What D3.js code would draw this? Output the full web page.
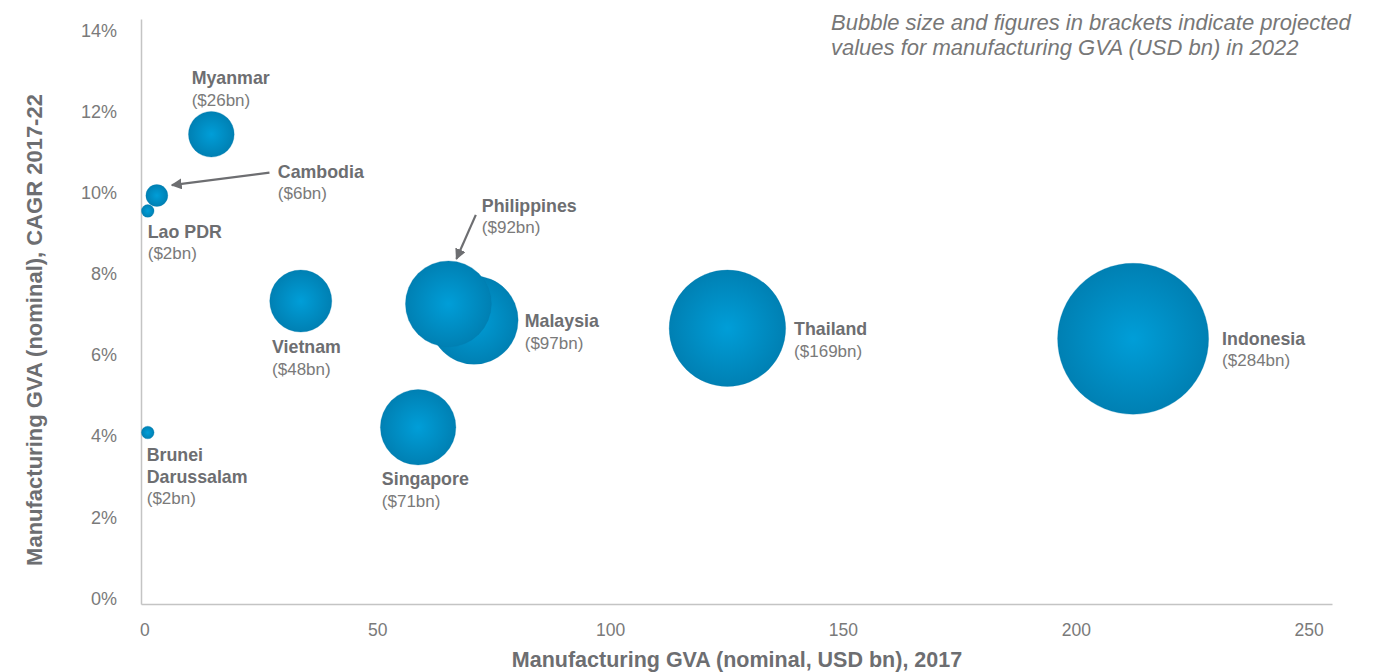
<!DOCTYPE html>
<html>
<head>
<meta charset="utf-8">
<script src="https://cdn.jsdelivr.net/npm/d3@7/dist/d3.min.js"></script>
<style>
  html, body { margin: 0; padding: 0; background: #ffffff; }
  svg { display: block; font-family: "Liberation Sans", Arial, Helvetica, sans-serif; }
</style>
</head>
<body>
<svg id="chart" width="1389" height="672"></svg>
<script>
// ASEAN manufacturing gross value added: 2017 level vs. CAGR 2017-22,
// bubble area = projected 2022 GVA (USD bn)
const countries  = ["Brunei", "Cambodia", "Lao PDR", "Malaysia", "Myanmar", "Philippines", "Singapore", "Thailand", "Vietnam", "Indonesia"];
const gva2017    = [0.75, 2.7, 0.75, 70.8, 14.4, 65.3, 58.8, 125.2, 33.6, 212.3];   // USD bn
const cagr       = [4.09, 9.93, 9.55, 6.86, 11.44, 7.26, 4.22, 6.66, 7.33, 6.40];  // %
const gva2022    = [2, 6, 2, 97, 26, 92, 71, 169, 48, 284];                          // USD bn
const nameLines  = [["Brunei", "Darussalam"], ["Cambodia"], ["Lao PDR"], ["Malaysia"], ["Myanmar"], ["Philippines"], ["Singapore"], ["Thailand"], ["Vietnam"], ["Indonesia"]];
const xTicks     = [0, 50, 100, 150, 200, 250];
const yTicks     = [0, 2, 4, 6, 8, 10, 12, 14];

// Label placement relative to each bubble centre (px); arrows where a label sits apart
const labelLayout = {
  "Brunei":      { dx: -1,    dy: 28.3 },
  "Cambodia":    { dx: 121,   dy: -18,  arrow: [[112.6, -23], [15, -10.4]] },
  "Lao PDR":     { dx: 0,     dy: 26.7 },
  "Malaysia":    { dx: 50.7,  dy: 6.7 },
  "Myanmar":     { dx: -19.7, dy: -50 },
  "Philippines": { dx: 33.4,  dy: -92.3, arrow: [[27.4, -89], [8, -45]] },
  "Singapore":   { dx: -36.3, dy: 57.7 },
  "Thailand":    { dx: 66.7,  dy: 6.7 },
  "Vietnam":     { dx: -28.7, dy: 52.3 },
  "Indonesia":   { dx: 89,    dy: 6 }
};

const svg = d3.select("#chart");
const textGrey = "#6d6e71";
const tickGrey = "#7a7a7a";
const axisGrey = "#c4c4c4";

const x = d3.scaleLinear().domain([-0.7, 255]).range([141, 1332]);
const y = d3.scaleLinear().domain([-0.135, 14.28]).range([604, 19]);
const r = d3.scaleSqrt().domain([0, 284]).range([0, 75.5]);

// bubble shading
const defs = svg.append("defs");
const grad = defs.append("radialGradient").attr("id", "bubbleFill")
  .attr("cx", "50%").attr("cy", "50%").attr("r", "50%");
grad.append("stop").attr("offset", "0%").attr("stop-color", "#009ed8");
grad.append("stop").attr("offset", "100%").attr("stop-color", "#0080b3");

const arrowHead = defs.append("marker").attr("id", "arrowHead")
  .attr("viewBox", "0 0 10 10").attr("refX", 9).attr("refY", 5)
  .attr("markerWidth", 5).attr("markerHeight", 5).attr("orient", "auto")
  .attr("markerUnits", "strokeWidth");
arrowHead.append("path").attr("d", "M0,0 L10,5 L0,10 Z").attr("fill", "#6d6e71");

// axes
const xAxis = d3.axisBottom(x).tickValues(xTicks).tickSize(0).tickPadding(20);
const gx = svg.append("g").attr("transform", `translate(0,${y.range()[0]})`).call(xAxis);
gx.select(".domain").attr("stroke", axisGrey).attr("stroke-width", 1.5);
gx.selectAll("text").attr("fill", tickGrey).attr("font-size", 17.5);

const yAxis = d3.axisLeft(y).tickValues(yTicks).tickSize(0).tickPadding(24)
  .tickFormat(d => d + "%");
const gy = svg.append("g").attr("transform", `translate(${x.range()[0]},0)`).call(yAxis);
gy.select(".domain").attr("stroke", axisGrey).attr("stroke-width", 1.5);
gy.selectAll("text").attr("fill", tickGrey).attr("font-size", 18);

// axis titles
svg.append("text")
  .attr("x", 737).attr("y", 667)
  .attr("text-anchor", "middle").attr("font-size", 21.5).attr("font-weight", "bold")
  .attr("fill", textGrey)
  .text("Manufacturing GVA (nominal, USD bn), 2017");

svg.append("text")
  .attr("transform", "translate(42,330) rotate(-90)")
  .attr("text-anchor", "middle").attr("font-size", 22).attr("font-weight", "bold")
  .attr("fill", textGrey)
  .text("Manufacturing GVA (nominal), CAGR 2017-22");

// note
const note = svg.append("text").attr("x", 831).attr("y", 29.5)
  .attr("font-size", 22).attr("font-style", "italic").attr("fill", "#777777");
note.append("tspan").attr("x", 831).attr("dy", 0).text("Bubble size and figures in brackets indicate projected");
note.append("tspan").attr("x", 831).attr("dy", 25).text("values for manufacturing GVA (USD bn) in 2022");

// bubbles
const data = countries.map((c, i) => ({
  country: c, gx: gva2017[i], growth: cagr[i], size: gva2022[i], lines: nameLines[i]
}));

svg.append("g").selectAll("circle").data(data).join("circle")
  .attr("cx", d => x(d.gx))
  .attr("cy", d => y(d.growth))
  .attr("r", d => r(d.size))
  .attr("fill", "url(#bubbleFill)")
  .attr("stroke", "#0079aa").attr("stroke-opacity", 0.35).attr("stroke-width", 0.8);

// labels and arrows
const labels = svg.append("g");
data.forEach(d => {
  const cx = x(d.gx), cy = y(d.growth);
  const L = labelLayout[d.country];
  if (L.arrow) {
    labels.append("line")
      .attr("x1", cx + L.arrow[0][0]).attr("y1", cy + L.arrow[0][1])
      .attr("x2", cx + L.arrow[1][0]).attr("y2", cy + L.arrow[1][1])
      .attr("stroke", "#6d6e71").attr("stroke-width", 2.2)
      .attr("marker-end", "url(#arrowHead)");
  }
  const t = labels.append("text").attr("x", cx + L.dx).attr("y", cy + L.dy).attr("font-size", 17);
  d.lines.forEach((ln, k) => {
    t.append("tspan").attr("x", cx + L.dx).attr("dy", k === 0 ? 0 : 21.7)
      .attr("font-weight", "bold").attr("font-size", 17.8).attr("fill", textGrey).text(ln);
  });
  t.append("tspan").attr("x", cx + L.dx).attr("dy", 21.7)
    .attr("fill", "#7a7a7a").text(`($${d.size}bn)`);
});
</script>
</body>
</html>
